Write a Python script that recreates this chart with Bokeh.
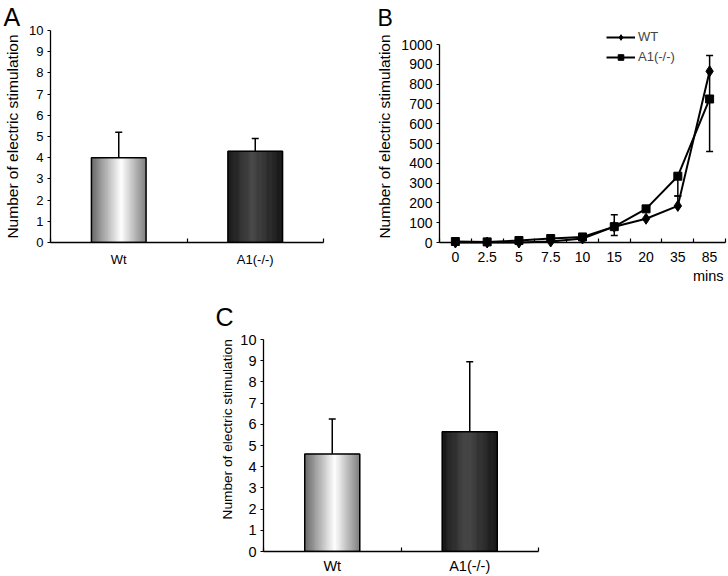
import numpy as np
from bokeh.plotting import figure
from bokeh.models import (Range1d, FixedTicker, Whisker, TeeHead, ColumnDataSource,
                          Legend, LegendItem, Spacer, Title)
from bokeh.layouts import row, column
from bokeh.embed import file_html
from bokeh.resources import INLINE

FONT = "Liberation Sans"

# ---------------- data ----------------
groups = ["Wt", "A1(-/-)"]
a_means = [4.0, 4.3]
a_errs = [1.2, 0.6]
c_means = [4.6, 5.65]
c_errs = [1.65, 3.3]
bar_yticks = list(range(0, 11))

mins = ["0", "2.5", "5", "7.5", "10", "15", "20", "35", "85"]
wt_vals = [0, 0, 0, 5, 20, 80, 120, 185, 865]
a1_vals = [5, 3, 10, 20, 28, 80, 170, 335, 725]
err_at = ["15", "35", "35", "85"]
err_low = [35, 185, 235, 460]
err_high = [140, 235, 335, 945]
b_yticks = list(range(0, 1001, 100))

YLABEL = "Number of electric stimulation"

# ---------------- styles ----------------
light_stops = ([0.0, 0.55, 1.0], [100, 255, 125])
dark_stops = ([0.0, 0.45, 1.0], [18, 68, 18])
BAR_W = 0.4


def style_axes(p, tick_font, label_font, x_standoff):
    p.xgrid.visible = False
    p.ygrid.visible = False
    p.outline_line_color = None
    for ax in (p.xaxis[0], p.yaxis[0]):
        ax.axis_line_color = "black"
        ax.axis_line_width = 1.3
        ax.major_tick_line_color = "black"
        ax.major_tick_line_width = 1.2
        ax.minor_tick_line_color = "black"
        ax.minor_tick_line_width = 1.2
        ax.major_label_text_font = FONT
        ax.major_label_text_font_size = tick_font
        ax.major_label_text_color = "black"
        ax.axis_label_text_font = FONT
        ax.axis_label_text_font_style = "normal"
        ax.axis_label_text_color = "black"
        ax.axis_label_text_font_size = label_font
    p.yaxis.major_tick_in = 0
    p.yaxis.major_tick_out = 3
    p.yaxis.minor_tick_line_color = None
    p.yaxis.major_label_standoff = 4
    p.yaxis.axis_label_standoff = 5
    p.xaxis.major_tick_in = 0
    p.xaxis.major_tick_out = 0
    p.xaxis.minor_tick_in = 4
    p.xaxis.minor_tick_out = 0
    p.xaxis.major_label_standoff = x_standoff


def text_title(text, size, offset, standoff=0, align="left"):
    return Title(text=text, align=align, offset=offset, standoff=standoff,
                 text_font=FONT, text_font_size=size, text_font_style="normal",
                 text_color="black")


def gray_hex(v):
    v = int(round(v))
    return "#%02x%02x%02x" % (v, v, v)


def shaded_bar(p, center, height, width, stops, n=60):
    edges = np.linspace(center - width / 2, center + width / 2, n + 1)
    t = (np.arange(n) + 0.5) / n
    g = np.interp(t, stops[0], stops[1])
    cols = [gray_hex(v) for v in g]
    p.quad(left=edges[:-1], right=edges[1:], bottom=0, top=height,
           fill_color=cols, line_color=cols, line_width=0.6)


def bar_panel(means, errs, letter, width, height, borders, tick_font, label_font,
              x_standoff, letter_offset, letter_size, letter_standoff, label_as_title=None):
    left, right, top, bottom = borders
    p = figure(width=width, height=height, x_range=Range1d(0, len(groups)),
               y_range=Range1d(0, 10), output_backend="svg", toolbar_location=None,
               min_border_left=left, min_border_right=right,
               min_border_top=top, min_border_bottom=bottom)
    p.title = text_title(letter, letter_size, letter_offset, letter_standoff)
    style_axes(p, tick_font, label_font, x_standoff)
    centers = [i + 0.5 for i in range(len(groups))]
    p.yaxis.ticker = FixedTicker(ticks=bar_yticks)
    if label_as_title is None:
        p.yaxis.axis_label = YLABEL
    else:
        off, so = label_as_title
        p.add_layout(text_title(YLABEL, label_font, off, so, align="left"), "left")
    p.xaxis.ticker = FixedTicker(ticks=centers, minor_ticks=list(range(len(groups) + 1)))
    p.xaxis.major_label_overrides = {c: g for c, g in zip(centers, groups)}

    src = ColumnDataSource(dict(x=centers, lo=means,
                                hi=[m + e for m, e in zip(means, errs)]))
    p.add_layout(Whisker(base="x", lower="lo", upper="hi", source=src, dimension="height",
                         line_color="black", line_width=1.5, lower_head=None,
                         upper_head=TeeHead(size=7, line_color="black", line_width=1.5)))
    for c, m, st in zip(centers, means, [light_stops, dark_stops]):
        shaded_bar(p, c, m, BAR_W, st)
    p.vbar(x=centers, top=means, width=BAR_W, bottom=0, fill_color=None,
           line_color="black", line_width=1.5)
    return p


pA = bar_panel(a_means, a_errs, "A", 360, 290, (50, 37, 29, 48), "13px", "15.5px", 9,
               -47, "25px", 0)
pC = bar_panel(c_means, c_errs, "C", 360, 286, (63, 22, 49, 24), "14.5px", "13.7px", 6,
               -48, "25px", 17, label_as_title=(32, 6))

# ---------------- panel B ----------------
pB = figure(width=368, height=290, x_range=Range1d(0, len(mins)), y_range=Range1d(0, 1071),
            output_backend="svg", toolbar_location=None,
            min_border_left=79, min_border_right=3, min_border_top=22, min_border_bottom=48)
pB.title = text_title("B", "23px", -62, 0)
style_axes(pB, "14px", "15.5px", 9)
xs = [i + 0.5 for i in range(len(mins))]
pos = {m: x for m, x in zip(mins, xs)}
pB.yaxis.ticker = FixedTicker(ticks=b_yticks)
pB.yaxis.bounds = (0, 1000)
pB.yaxis.axis_label = YLABEL
pB.xaxis.ticker = FixedTicker(ticks=xs, minor_ticks=list(range(len(mins) + 1)))
pB.xaxis.major_label_overrides = {x: m for x, m in zip(xs, mins)}

esrc = ColumnDataSource(dict(x=[pos[e] for e in err_at], lo=err_low, hi=err_high))
pB.add_layout(Whisker(base="x", lower="lo", upper="hi", source=esrc, dimension="height",
                      line_color="black", line_width=1.5,
                      lower_head=TeeHead(size=7, line_color="black", line_width=1.5),
                      upper_head=TeeHead(size=7, line_color="black", line_width=1.5)))
l1 = pB.line(xs, wt_vals, line_color="black", line_width=2, level="overlay")
s1 = pB.scatter(xs, wt_vals, marker="diamond", size=11, color="black", level="overlay")
l2 = pB.line(xs, a1_vals, line_color="black", line_width=2, level="overlay")
s2 = pB.scatter(xs, a1_vals, marker="square", size=8, color="black", level="overlay")
legend = Legend(items=[LegendItem(label="WT", renderers=[l1, s1]),
                       LegendItem(label="A1(-/-)", renderers=[l2, s2])],
                location=(167, 178), glyph_width=29, glyph_height=14, label_standoff=3,
                padding=0, margin=0, spacing=5, border_line_color=None,
                background_fill_alpha=0, label_text_font=FONT,
                label_text_font_size="13px", label_height=14)
pB.add_layout(legend)
pB.add_layout(text_title("mins", "14.5px", 2, 3, align="right"), "below")

layout = column(row(pA, pB), row(Spacer(width=200, height=286), pC))
open("out.html", "w").write(file_html(layout, INLINE))
